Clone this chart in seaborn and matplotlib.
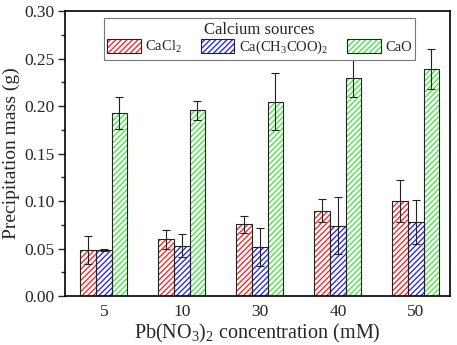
import numpy as np
import pandas as pd
import matplotlib
matplotlib.use('Agg')
import matplotlib.pyplot as plt
import seaborn as sns
from matplotlib.patches import Rectangle, Patch
from matplotlib.legend_handler import HandlerTuple
from matplotlib.ticker import MultipleLocator, FormatStrFormatter

# Datos
concentraciones = ['5', '10', '30', '40', '50']
fuentes = ['CaCl$_2$', 'Ca(CH$_3$COO)$_2$', 'CaO']

masa_cacl2 = [0.048, 0.060, 0.0755, 0.090, 0.100]
err_cacl2 = [0.0147, 0.010, 0.0088, 0.012, 0.022]
masa_acetato = [0.048, 0.053, 0.052, 0.074, 0.078]
err_acetato = [0.001, 0.012, 0.020, 0.030, 0.023]
masa_cao = [0.193, 0.1955, 0.2045, 0.2295, 0.239]
err_cao = [0.017, 0.010, 0.030, 0.0205, 0.021]

colores = ['#ff1a1a', '#1a1aff', '#3ee83e']

sns.set_style('ticks')
plt.rcParams['font.family'] = ['Liberation Serif', 'DejaVu Serif']
plt.rcParams['mathtext.fontset'] = 'custom'
plt.rcParams['mathtext.rm'] = 'Liberation Serif'
plt.rcParams['mathtext.it'] = 'Liberation Serif:italic'
plt.rcParams['hatch.linewidth'] = 0.9

df = pd.DataFrame({
    'conc': concentraciones * 3,
    'fuente': [fuentes[0]] * 5 + [fuentes[1]] * 5 + [fuentes[2]] * 5,
    'masa': masa_cacl2 + masa_acetato + masa_cao,
})
errores = [err_cacl2, err_acetato, err_cao]

fig, ax = plt.subplots(figsize=(4.57, 3.45), dpi=100)
fig.subplots_adjust(left=0.142, right=0.985, top=0.968, bottom=0.142)

sns.barplot(data=df, x='conc', y='masa', hue='fuente', order=concentraciones,
            hue_order=fuentes, palette=colores, width=0.6, errorbar=None,
            legend=False, ax=ax)

rayado = '//////'
for cont, col, err in zip(ax.containers, colores, errores):
    xs, ys = [], []
    for bar in cont:
        bar.set_facecolor('white')
        bar.set_edgecolor(col)
        bar.set_linewidth(0)
        bar.set_hatch(rayado)
        # borde negro encima del rayado de color
        ax.add_patch(Rectangle((bar.get_x(), bar.get_y()), bar.get_width(), bar.get_height(),
                               facecolor='none', edgecolor='#222222', linewidth=0.8, zorder=3))
        xs.append(bar.get_x() + bar.get_width() / 2)
        ys.append(bar.get_height())
    ax.errorbar(xs, ys, yerr=err, fmt='none', ecolor='#222222', elinewidth=0.8,
                capsize=2.6, capthick=0.8, zorder=4)

ax.set_xlim(-0.5, 4.44)
ax.set_ylim(0, 0.30)
ax.yaxis.set_major_locator(MultipleLocator(0.05))
ax.yaxis.set_minor_locator(MultipleLocator(0.025))
ax.yaxis.set_major_formatter(FormatStrFormatter('%.2f'))
ax.tick_params(axis='y', which='major', direction='out', length=5, width=1, labelsize=12.5, pad=2.5)
ax.tick_params(axis='y', which='minor', direction='out', length=3, width=1)
ax.tick_params(axis='x', length=0, labelsize=12.5, pad=6)
for s in ax.spines.values():
    s.set_linewidth(1.2)
    s.set_color('black')

ax.set_xlabel('Pb(NO$_3$)$_2$ concentration (mM)', fontsize=14.5, labelpad=1)
ax.set_ylabel('Precipitation mass (g)', fontsize=14, labelpad=3)

manijas = [(Patch(facecolor='white', edgecolor=c, hatch=rayado, linewidth=0),
            Patch(facecolor='none', edgecolor='#222222', linewidth=0.8)) for c in colores]
leg = ax.legend(manijas, fuentes, handler_map={tuple: HandlerTuple(ndivide=1)},
                title='Calcium sources', ncol=3, loc='upper center',
                bbox_to_anchor=(0.505, 0.976), fontsize=10.5, title_fontsize=12,
                frameon=True, fancybox=False, edgecolor='#777777', framealpha=1,
                handlelength=2.3, handleheight=1.05, columnspacing=1.3,
                handletextpad=0.3, borderpad=0.25, labelspacing=0.1,
                borderaxespad=0)
leg.get_frame().set_linewidth(0.8)
leg._legend_box.align = 'center'

fig.savefig('out.png', dpi=100)
